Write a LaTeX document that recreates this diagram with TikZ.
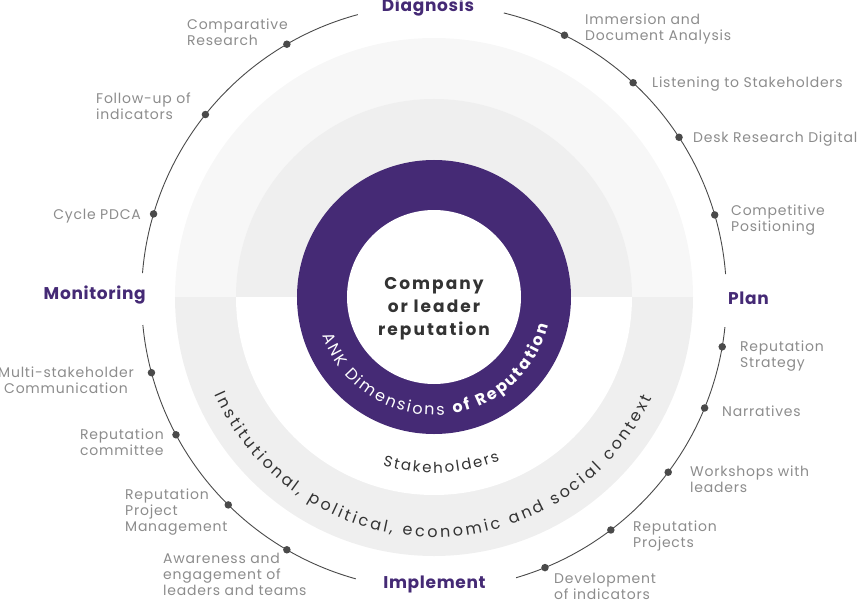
\documentclass[tikz,border=0pt]{standalone}
\usepackage{fontspec}
\setmainfont{Poppins}
\newfontfamily\lblfont[LetterSpace=5.5]{Poppins}
\newfontfamily\headfont[LetterSpace=4]{Poppins}
\newfontfamily\corefont[LetterSpace=12]{Poppins}
\usetikzlibrary{decorations.text}

\definecolor{ankpurple}{HTML}{452A75}
\definecolor{labelgray}{HTML}{8C8C8C}
\definecolor{bandlight}{HTML}{F7F7F7}
\definecolor{bandgray}{HTML}{EFEFEF}
\definecolor{ringline}{HTML}{4A4A4A}
\definecolor{darktext}{HTML}{333333}

\tikzset{
  dot/.style={circle,fill=ringline,inner sep=0pt,minimum size=7.5pt},
  lbl/.style={font=\lblfont\fontsize{14}{16}\selectfont,text=labelgray,inner sep=0pt,align=left},
  phase/.style={font=\headfont\bfseries\fontsize{17}{20}\selectfont,text=ankpurple,inner sep=0pt},
  ring/.style={ringline,line width=0.9pt}
}

\begin{document}
\begin{tikzpicture}[x=1pt,y=1pt]
\useasboundingbox (-434,-303) rectangle (425,297);

% bands
\fill[bandlight] (259,0) arc[start angle=0,end angle=180,radius=259] -- cycle;
\fill[bandgray] (-259,0) arc[start angle=180,end angle=360,radius=259] -- cycle;
\fill[bandgray] (198,0) arc[start angle=0,end angle=180,radius=198] -- cycle;
\fill[white] (-198,0) arc[start angle=180,end angle=360,radius=198] -- cycle;
\fill[ankpurple] (0,0) circle[radius=137];
\fill[white] (0,0) circle[radius=87];

% outer ring, open at the four phases
\draw[ring] (4.5:292.5) arc[start angle=4.5,end angle=76.2,radius=292.5];
\draw[ring] (105.1:292.5) arc[start angle=105.1,end angle=175.3,radius=292.5];
\draw[ring] (185.5:292.5) arc[start angle=185.5,end angle=254.5,radius=292.5];
\draw[ring] (286.3:292.5) arc[start angle=286.3,end angle=354.1,radius=292.5];

\node[phase,anchor=base] (diag) at (-6,285) {Diagnosis};
\node[phase,anchor=east] (moni) at (-288,2) {Monitoring};
\node[phase,anchor=west] (plan) at (294,-1) {Plan};
\node[phase,anchor=base] (impl) at (0.5,-291) {Implement};

\node[align=center,font=\corefont\bfseries\fontsize{17}{22.8}\selectfont,text=darktext] (core) at (0,-12) {Company\\or leader\\reputation};

% texts on the rings
\path[decorate,decoration={text along path,text align={fit to path},text color=white,
  text={|\fontsize{16}{16}\selectfont|ANK Dimensions |\fontsize{16}{16}\selectfont\bfseries|of Reputation}}]
  (199:118) arc[start angle=199,end angle=346,radius=118];
\path[decorate,decoration={text along path,text align={fit to path},text color=darktext,
  text={|\fontsize{15}{15}\selectfont|Stakeholders}}]
  (253:176) arc[start angle=253,end angle=292,radius=176];
\path[decorate,decoration={text along path,text align={fit to path},text color=darktext,
  text={|\fontsize{16}{16}\selectfont|Institutional, political, economic and social context}}]
  (204:240) arc[start angle=204,end angle=335,radius=240];

% Diagnosis
\node[dot] (d1) at (63.5:292.5) {};
\node[lbl,anchor=west] (l1) at (151,268) {Immersion and\\Document Analysis};
\node[dot] (d2) at (47.1:292.5) {};
\node[lbl,anchor=west] (l2) at (218,213) {Listening to Stakeholders};
\node[dot] (d3) at (33.1:292.5) {};
\node[lbl,anchor=west] (l3) at (259,158) {Desk Research Digital};
\node[dot] (d4) at (16.3:292.5) {};
\node[lbl,anchor=west] (l4) at (297,77) {Competitive\\Positioning};

% Plan
\node[dot] (d5) at (-9.8:292.5) {};
\node[lbl,anchor=west] (l5) at (306,-59) {Reputation\\Strategy};
\node[dot] (d6) at (-22.3:292.5) {};
\node[lbl,anchor=west] (l6) at (288,-114) {Narratives};
\node[dot] (d7) at (-36.8:292.5) {};
\node[lbl,anchor=west] (l7) at (256,-182) {Workshops with\\leaders};
\node[dot] (d8) at (-52.8:292.5) {};
\node[lbl,anchor=west] (l8) at (199,-239) {Reputation\\Projects};
\node[dot] (d9) at (-67.7:292.5) {};
\node[lbl,anchor=west] (l9) at (120,-289) {Development\\of indicators};

% Implement
\node[dot] (d10) at (239.8:292.5) {};
\node[lbl,anchor=west] (l10) at (-271,-277) {Awareness and\\engagement of\\leaders and teams};
\node[dot] (d11) at (225.3:292.5) {};
\node[lbl,anchor=west] (l11) at (-309,-215) {Reputation\\Project\\Management};
\node[dot] (d12) at (208.1:292.5) {};
\node[lbl,anchor=west] (l12) at (-354,-145) {Reputation\\committee};
\node[dot] (d13) at (195:292.5) {};
\node[lbl,align=center] (l13) at (-368,-83) {Multi-stakeholder\\Communication};

% Monitoring
\node[dot] (d14) at (163.5:292.5) {};
\node[lbl,anchor=east] (l14) at (-293,81) {Cycle PDCA};
\node[dot] (d15) at (141.4:292.5) {};
\node[lbl,anchor=west] (l15) at (-338,191) {Follow-up of\\indicators};
\node[dot] (d16) at (120.2:292.5) {};
\node[lbl,anchor=west] (l16) at (-247,265) {Comparative\\Research};

\end{tikzpicture}
\end{document}
